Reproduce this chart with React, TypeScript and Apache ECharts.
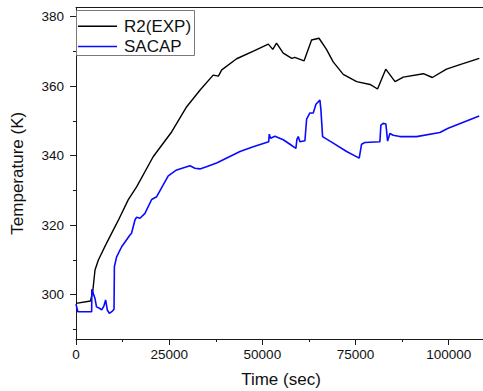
import React, { useEffect, useRef } from "react";
import * as echarts from "echarts";

const expTime = [0, 3900, 4500, 5100, 6000, 8000, 11300, 14000, 16300, 20700, 25700, 29700, 33300, 36800, 38200, 39100, 43100, 47600, 51600, 52800, 53800, 55600, 57900, 58700, 61200, 63200, 65200, 67200, 69000, 71700, 75300, 78900, 80900, 83100, 85600, 87800, 93200, 95600, 99400, 103000, 108200];
const expTemp = [297.5, 298.2, 301.0, 307.1, 310.0, 314.4, 321.3, 327.3, 331.1, 339.7, 346.9, 354.1, 358.9, 363.2, 362.9, 364.7, 367.9, 370.1, 372.1, 370.6, 372.4, 369.5, 368.0, 368.3, 367.3, 373.3, 373.8, 370.6, 367.0, 363.4, 361.3, 360.5, 359.2, 364.9, 361.3, 362.6, 363.6, 362.5, 364.9, 366.2, 368.0];

const sacapTime = [0, 500, 4200, 4250, 5100, 5500, 6300, 6900, 7500, 7950, 8400, 8950, 9600, 10200, 10300, 10900, 12250, 14480, 14900, 15820, 16270, 17160, 18500, 20300, 21640, 24750, 27000, 30570, 31910, 33260, 35000, 37730, 44000, 47550, 51700, 51850, 52200, 53370, 55600, 57400, 59000, 59270, 59630, 60080, 61420, 61870, 62760, 63650, 64370, 65440, 65710, 66160, 69010, 72600, 75980, 76620, 77510, 81530, 81800, 82420, 83140, 83600, 84210, 85100, 86900, 91380, 97620, 99850, 108180];
const sacapTemp = [297.3, 295.1, 295.1, 301.6, 298.9, 296.5, 296.1, 295.6, 296.8, 298.5, 295.6, 294.6, 295.1, 295.8, 308.1, 310.9, 313.8, 317.2, 317.7, 321.5, 322.3, 322.0, 323.4, 327.4, 328.2, 334.2, 335.9, 337.1, 336.4, 336.2, 336.8, 337.9, 341.2, 342.6, 344.0, 346.2, 345.0, 345.6, 344.6, 343.3, 342.1, 344.7, 345.5, 344.0, 344.3, 350.5, 352.3, 352.3, 354.8, 356.0, 353.2, 345.5, 343.6, 341.2, 339.3, 343.3, 343.8, 344.0, 348.8, 349.3, 349.1, 344.2, 346.4, 345.9, 345.5, 345.5, 346.7, 347.9, 351.4];

const xMajorTicks = [0, 25000, 50000, 75000, 100000];
const xMinorTicks = [12500, 37500, 62500, 87500];
const yMajorTicks = [300, 320, 340, 360, 380];
const yMinorTicks = [290, 310, 330, 350, 370];

const X_MIN = 0;
const X_MAX = 110000;
const Y_MIN = 287.25;
const Y_MAX = 382.65;

const FONT = "Liberation Sans, Arial, sans-serif";

export default function App() {
  const ref = useRef<HTMLDivElement>(null);
  useEffect(() => {
    if (!ref.current) return;
    const chart = echarts.init(ref.current, undefined, { renderer: "svg" });
    const axisLine = { show: true, lineStyle: { color: "#1a1a1a", width: 1 } };
    const plain = (v: number) => String(v);
    chart.setOption({
      animation: false,
      backgroundColor: "#ffffff",
      textStyle: { fontFamily: FONT },
      grid: { left: 76, top: 7.5, right: -3, bottom: 52, containLabel: false, outerBoundsMode: "none" },
      graphic: {
        elements: [
          {
            type: "polyline",
            z: 100,
            silent: true,
            shape: { points: [[76.5, 10.5], [194.5, 10.5], [194.5, 55.5], [76.5, 55.5], [76.5, 10.5]] },
            style: { stroke: "#7a7a7a", lineWidth: 1, fill: null },
          },
        ],
      },
      legend: {
        orient: "vertical",
        left: 78,
        top: 14,
        padding: [3.8, 0, 3.7, 0],
        itemGap: 3.3,
        itemWidth: 39,
        itemHeight: 1.5,
        icon: "rect",
        z: 10,
        textStyle: { fontFamily: FONT, fontSize: 17, color: "#111", padding: [0, 0, 0, 2] },
        data: ["R2(EXP)", "SACAP"],
      },
      xAxis: [
        {
          type: "value",
          min: X_MIN,
          max: X_MAX,
          position: "bottom",
          axisLine,
          axisTick: { show: true, inside: false, length: 6, customValues: xMajorTicks, lineStyle: { color: "#1a1a1a" } },
          axisLabel: { show: true, customValues: xMajorTicks, formatter: plain, margin: 8, fontSize: 13.5, color: "#111", fontFamily: FONT, hideOverlap: false },
          splitLine: { show: false },
          name: "Time (sec)",
          nameLocation: "middle",
          nameGap: 32,
          nameTextStyle: { fontSize: 17, color: "#111", fontFamily: FONT },
        },
        {
          type: "value",
          min: X_MIN,
          max: X_MAX,
          position: "bottom",
          axisLine: { show: false },
          axisTick: { show: true, length: 3, customValues: xMinorTicks, lineStyle: { color: "#1a1a1a" } },
          axisLabel: { show: false },
          splitLine: { show: false },
        },
        {
          type: "value",
          min: X_MIN,
          max: X_MAX,
          position: "top",
          axisLine,
          axisTick: { show: false },
          axisLabel: { show: false },
          splitLine: { show: false },
        },
      ],
      yAxis: [
        {
          type: "value",
          min: Y_MIN,
          max: Y_MAX,
          position: "left",
          axisLine,
          axisTick: { show: true, length: 6, customValues: yMajorTicks, lineStyle: { color: "#1a1a1a" } },
          axisLabel: { show: true, customValues: yMajorTicks, formatter: plain, margin: 12, fontSize: 13.5, color: "#111", fontFamily: FONT },
          splitLine: { show: false },
          name: "Temperature (K)",
          nameLocation: "middle",
          nameGap: 50,
          nameRotate: 90,
          nameTextStyle: { fontSize: 17, color: "#111", fontFamily: FONT },
        },
        {
          type: "value",
          min: Y_MIN,
          max: Y_MAX,
          position: "left",
          axisLine: { show: false },
          axisTick: { show: true, length: 3, customValues: yMinorTicks, lineStyle: { color: "#1a1a1a" } },
          axisLabel: { show: false },
          splitLine: { show: false },
        },
      ],
      series: [
        {
          name: "R2(EXP)",
          type: "line",
          xAxisIndex: 0,
          yAxisIndex: 0,
          showSymbol: false,
          symbol: "none",
          lineStyle: { color: "#000000", width: 1.4 },
          itemStyle: { color: "#000000" },
          data: expTime.map((t, i) => [t, expTemp[i]]),
        },
        {
          name: "SACAP",
          type: "line",
          xAxisIndex: 0,
          yAxisIndex: 0,
          showSymbol: false,
          symbol: "none",
          lineStyle: { color: "#0a0aff", width: 1.6 },
          itemStyle: { color: "#0a0aff" },
          data: sacapTime.map((t, i) => [t, sacapTemp[i]]),
        },
      ],
    });
    return () => chart.dispose();
  }, []);
  return (
    <div
      ref={ref}
      style={{ position: "absolute", left: 0, top: 0, width: 483, height: 391 }}
    />
  );
}
